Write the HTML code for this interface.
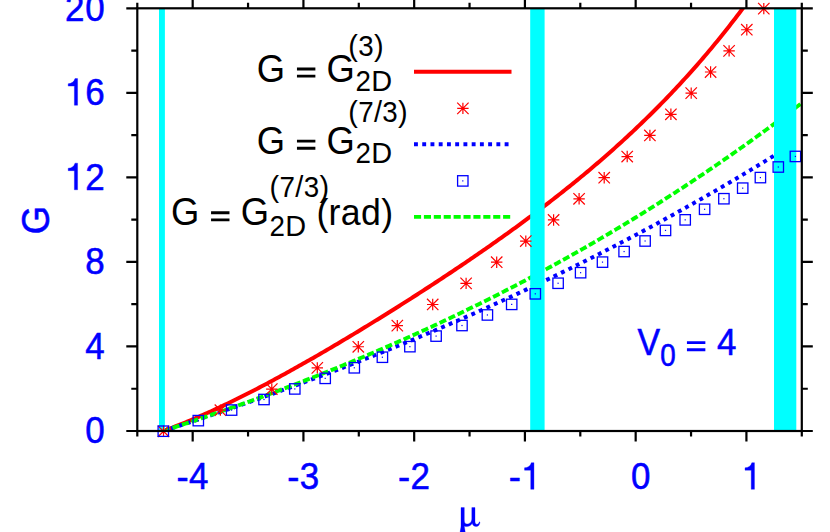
<!DOCTYPE html><html><head><meta charset="utf-8"><title>G vs mu</title><style>html,body{margin:0;padding:0;background:#fff}svg{display:block}text{font-family:"Liberation Sans",sans-serif}</style></head><body>
<svg width="830" height="532" viewBox="0 0 830 532">
<rect width="830" height="532" fill="#fff"/>
<defs><clipPath id="c"><rect x="137.3" y="8.3" width="664.5" height="422.7"/></clipPath>
<g id="st" stroke="#f00" stroke-width="1.2" fill="none"><path d="M-5.7 0H5.7M0 -5.7V5.7M-5.7 -5.7L5.7 5.7M-5.7 5.7L5.7 -5.7"/></g>
<g id="sq"><rect x="-5.2" y="-5.2" width="10.4" height="10.4" fill="none" stroke="#00f" stroke-width="1.3"/><rect x="-0.6" y="-0.6" width="1.2" height="1.2" fill="#00f"/></g>
</defs>
<g clip-path="url(#c)" fill="none">
<path d="M163.20 431.00 L165.20 430.27 L167.20 429.53 L169.20 428.78 L171.20 428.02 L173.20 427.25 L175.20 426.48 L177.20 425.70 L179.20 424.90 L181.20 424.10 L183.20 423.30 L185.20 422.48 L187.20 421.66 L189.20 420.82 L191.20 419.99 L193.20 419.14 L195.20 418.29 L197.20 417.42 L199.20 416.56 L201.20 415.68 L203.20 414.80 L205.20 413.91 L207.20 413.01 L209.20 412.11 L211.20 411.20 L213.20 410.28 L215.20 409.36 L217.20 408.43 L219.20 407.50 L221.20 406.56 L223.20 405.61 L225.20 404.66 L227.20 403.70 L229.20 402.73 L231.20 401.76 L233.20 400.78 L235.20 399.80 L237.20 398.82 L239.20 397.82 L241.20 396.82 L243.20 395.82 L245.20 394.81 L247.20 393.80 L249.20 392.78 L251.20 391.76 L253.20 390.73 L255.20 389.69 L257.20 388.66 L259.20 387.61 L261.20 386.57 L263.20 385.51 L265.20 384.46 L267.20 383.40 L269.20 382.33 L271.20 381.26 L273.20 380.19 L275.20 379.11 L277.20 378.03 L279.20 376.94 L281.20 375.85 L283.20 374.76 L285.20 373.66 L287.20 372.56 L289.20 371.45 L291.20 370.34 L293.20 369.23 L295.20 368.11 L297.20 366.99 L299.20 365.87 L301.20 364.74 L303.20 363.61 L305.20 362.48 L307.20 361.34 L309.20 360.20 L311.20 359.06 L313.20 357.91 L315.20 356.76 L317.20 355.61 L319.20 354.45 L321.20 353.29 L323.20 352.13 L325.20 350.96 L327.20 349.79 L329.20 348.62 L331.20 347.45 L333.20 346.27 L335.20 345.09 L337.20 343.91 L339.20 342.72 L341.20 341.53 L343.20 340.34 L345.20 339.15 L347.20 337.95 L349.20 336.75 L351.20 335.55 L353.20 334.34 L355.20 333.14 L357.20 331.93 L359.20 330.71 L361.20 329.50 L363.20 328.28 L365.20 327.06 L367.20 325.84 L369.20 324.61 L371.20 323.39 L373.20 322.16 L375.20 320.92 L377.20 319.69 L379.20 318.45 L381.20 317.21 L383.20 315.97 L385.20 314.72 L387.20 313.48 L389.20 312.23 L391.20 310.97 L393.20 309.72 L395.20 308.46 L397.20 307.20 L399.20 305.94 L401.20 304.67 L403.20 303.41 L405.20 302.14 L407.20 300.86 L409.20 299.59 L411.20 298.31 L413.20 297.03 L415.20 295.75 L417.20 294.46 L419.20 293.18 L421.20 291.89 L423.20 290.59 L425.20 289.30 L427.20 288.00 L429.20 286.70 L431.20 285.40 L433.20 284.09 L435.20 282.78 L437.20 281.47 L439.20 280.15 L441.20 278.84 L443.20 277.52 L445.20 276.19 L447.20 274.87 L449.20 273.54 L451.20 272.21 L453.20 270.87 L455.20 269.53 L457.20 268.19 L459.20 266.85 L461.20 265.50 L463.20 264.15 L465.20 262.79 L467.20 261.44 L469.20 260.08 L471.20 258.71 L473.20 257.35 L475.20 255.97 L477.20 254.60 L479.20 253.22 L481.20 251.84 L483.20 250.46 L485.20 249.07 L487.20 247.67 L489.20 246.28 L491.20 244.88 L493.20 243.47 L495.20 242.07 L497.20 240.65 L499.20 239.24 L501.20 237.82 L503.20 236.39 L505.20 234.97 L507.20 233.53 L509.20 232.09 L511.20 230.65 L513.20 229.21 L515.20 227.76 L517.20 226.30 L519.20 224.84 L521.20 223.38 L523.20 221.91 L525.20 220.43 L527.20 218.95 L529.20 217.47 L531.20 215.98 L533.20 214.48 L535.20 212.98 L537.20 211.47 L539.20 209.96 L541.20 208.45 L543.20 206.92 L545.20 205.40 L547.20 203.86 L549.20 202.32 L551.20 200.78 L553.20 199.23 L555.20 197.67 L557.20 196.10 L559.20 194.53 L561.20 192.96 L563.20 191.37 L565.20 189.78 L567.20 188.19 L569.20 186.58 L571.20 184.97 L573.20 183.36 L575.20 181.73 L577.20 180.10 L579.20 178.46 L581.20 176.82 L583.20 175.17 L585.20 173.50 L587.20 171.84 L589.20 170.16 L591.20 168.48 L593.20 166.78 L595.20 165.08 L597.20 163.38 L599.20 161.66 L601.20 159.94 L603.20 158.20 L605.20 156.46 L607.20 154.71 L609.20 152.95 L611.20 151.18 L613.20 149.40 L615.20 147.62 L617.20 145.82 L619.20 144.01 L621.20 142.20 L623.20 140.37 L625.20 138.54 L627.20 136.69 L629.20 134.84 L631.20 132.97 L633.20 131.10 L635.20 129.21 L637.20 127.32 L639.20 125.41 L641.20 123.49 L643.20 121.56 L645.20 119.62 L647.20 117.67 L649.20 115.71 L651.20 113.73 L653.20 111.75 L655.20 109.75 L657.20 107.74 L659.20 105.72 L661.20 103.69 L663.20 101.64 L665.20 99.58 L667.20 97.51 L669.20 95.42 L671.20 93.33 L673.20 91.22 L675.20 89.09 L677.20 86.96 L679.20 84.80 L681.20 82.64 L683.20 80.46 L685.20 78.27 L687.20 76.06 L689.20 73.84 L691.20 71.61 L693.20 69.36 L695.20 67.09 L697.20 64.81 L699.20 62.52 L701.20 60.21 L703.20 57.88 L705.20 55.54 L707.20 53.18 L709.20 50.81 L711.20 48.42 L713.20 46.01 L715.20 43.59 L717.20 41.15 L719.20 38.70 L721.20 36.22 L723.20 33.73 L725.20 31.23 L727.20 28.70 L729.20 26.16 L731.20 23.60 L733.20 21.02 L735.20 18.42 L737.20 15.81 L739.20 13.17 L741.20 10.52 L743.20 7.85 L745.20 5.16 L747.20 2.45 L749.20 -0.28 L751.20 -3.03 L753.20 -5.80 L755.20 -8.59 L757.20 -11.40 L759.20 -14.23" stroke="#f00" stroke-width="4"/>
<path d="M163.20 431.00 L165.20 430.35 L167.20 429.70 L169.20 429.06 L171.20 428.40 L173.20 427.75 L175.20 427.10 L177.20 426.45 L179.20 425.79 L181.20 425.13 L183.20 424.48 L185.20 423.82 L187.20 423.16 L189.20 422.50 L191.20 421.83 L193.20 421.17 L195.20 420.51 L197.20 419.84 L199.20 419.17 L201.20 418.50 L203.20 417.83 L205.20 417.16 L207.20 416.49 L209.20 415.82 L211.20 415.14 L213.20 414.47 L215.20 413.79 L217.20 413.11 L219.20 412.43 L221.20 411.75 L223.20 411.07 L225.20 410.38 L227.20 409.70 L229.20 409.01 L231.20 408.32 L233.20 407.63 L235.20 406.94 L237.20 406.25 L239.20 405.56 L241.20 404.86 L243.20 404.17 L245.20 403.47 L247.20 402.77 L249.20 402.07 L251.20 401.37 L253.20 400.67 L255.20 399.96 L257.20 399.26 L259.20 398.55 L261.20 397.84 L263.20 397.13 L265.20 396.42 L267.20 395.71 L269.20 394.99 L271.20 394.28 L273.20 393.56 L275.20 392.84 L277.20 392.12 L279.20 391.40 L281.20 390.68 L283.20 389.96 L285.20 389.23 L287.20 388.50 L289.20 387.78 L291.20 387.05 L293.20 386.31 L295.20 385.58 L297.20 384.85 L299.20 384.11 L301.20 383.37 L303.20 382.64 L305.20 381.90 L307.20 381.15 L309.20 380.41 L311.20 379.67 L313.20 378.92 L315.20 378.17 L317.20 377.42 L319.20 376.67 L321.20 375.92 L323.20 375.16 L325.20 374.41 L327.20 373.65 L329.20 372.89 L331.20 372.13 L333.20 371.37 L335.20 370.61 L337.20 369.84 L339.20 369.07 L341.20 368.31 L343.20 367.54 L345.20 366.76 L347.20 365.99 L349.20 365.22 L351.20 364.44 L353.20 363.66 L355.20 362.88 L357.20 362.10 L359.20 361.32 L361.20 360.53 L363.20 359.75 L365.20 358.96 L367.20 358.17 L369.20 357.38 L371.20 356.59 L373.20 355.79 L375.20 355.00 L377.20 354.20 L379.20 353.40 L381.20 352.60 L383.20 351.79 L385.20 350.99 L387.20 350.18 L389.20 349.37 L391.20 348.56 L393.20 347.75 L395.20 346.94 L397.20 346.12 L399.20 345.31 L401.20 344.49 L403.20 343.67 L405.20 342.85 L407.20 342.02 L409.20 341.20 L411.20 340.37 L413.20 339.54 L415.20 338.71 L417.20 337.87 L419.20 337.04 L421.20 336.20 L423.20 335.37 L425.20 334.53 L427.20 333.68 L429.20 332.84 L431.20 331.99 L433.20 331.15 L435.20 330.30 L437.20 329.45 L439.20 328.59 L441.20 327.74 L443.20 326.88 L445.20 326.02 L447.20 325.16 L449.20 324.30 L451.20 323.44 L453.20 322.57 L455.20 321.70 L457.20 320.83 L459.20 319.96 L461.20 319.09 L463.20 318.21 L465.20 317.33 L467.20 316.45 L469.20 315.57 L471.20 314.69 L473.20 313.81 L475.20 312.92 L477.20 312.03 L479.20 311.14 L481.20 310.25 L483.20 309.35 L485.20 308.45 L487.20 307.55 L489.20 306.65 L491.20 305.75 L493.20 304.85 L495.20 303.94 L497.20 303.03 L499.20 302.12 L501.20 301.21 L503.20 300.29 L505.20 299.38 L507.20 298.46 L509.20 297.54 L511.20 296.61 L513.20 295.69 L515.20 294.76 L517.20 293.83 L519.20 292.90 L521.20 291.97 L523.20 291.03 L525.20 290.09 L527.20 289.16 L529.20 288.21 L531.20 287.27 L533.20 286.32 L535.20 285.38 L537.20 284.43 L539.20 283.48 L541.20 282.52 L543.20 281.57 L545.20 280.61 L547.20 279.65 L549.20 278.68 L551.20 277.72 L553.20 276.75 L555.20 275.78 L557.20 274.81 L559.20 273.84 L561.20 272.86 L563.20 271.89 L565.20 270.91 L567.20 269.92 L569.20 268.94 L571.20 267.95 L573.20 266.97 L575.20 265.98 L577.20 264.98 L579.20 263.99 L581.20 262.99 L583.20 261.99 L585.20 260.99 L587.20 259.98 L589.20 258.98 L591.20 257.97 L593.20 256.96 L595.20 255.95 L597.20 254.93 L599.20 253.91 L601.20 252.89 L603.20 251.87 L605.20 250.85 L607.20 249.82 L609.20 248.79 L611.20 247.76 L613.20 246.73 L615.20 245.69 L617.20 244.66 L619.20 243.61 L621.20 242.57 L623.20 241.53 L625.20 240.48 L627.20 239.43 L629.20 238.38 L631.20 237.32 L633.20 236.27 L635.20 235.21 L637.20 234.15 L639.20 233.08 L641.20 232.02 L643.20 230.95 L645.20 229.88 L647.20 228.81 L649.20 227.73 L651.20 226.65 L653.20 225.57 L655.20 224.49 L657.20 223.40 L659.20 222.32 L661.20 221.23 L663.20 220.13 L665.20 219.04 L667.20 217.94 L669.20 216.84 L671.20 215.74 L673.20 214.64 L675.20 213.53 L677.20 212.42 L679.20 211.31 L681.20 210.19 L683.20 209.08 L685.20 207.96 L687.20 206.84 L689.20 205.71 L691.20 204.59 L693.20 203.46 L695.20 202.32 L697.20 201.19 L699.20 200.05 L701.20 198.91 L703.20 197.77 L705.20 196.63 L707.20 195.48 L709.20 194.33 L711.20 193.18 L713.20 192.03 L715.20 190.87 L717.20 189.71 L719.20 188.55 L721.20 187.38 L723.20 186.21 L725.20 185.04 L727.20 183.87 L729.20 182.70 L731.20 181.52 L733.20 180.34 L735.20 179.16 L737.20 177.97 L739.20 176.78 L741.20 175.59 L743.20 174.40 L745.20 173.20 L747.20 172.00 L749.20 170.80 L751.20 169.60 L753.20 168.39 L755.20 167.18 L757.20 165.97 L759.20 164.76 L761.20 163.54 L763.20 162.32 L765.20 161.10 L767.20 159.87 L769.20 158.64 L771.20 157.41 L773.20 156.18 L775.20 154.94" stroke="#00f" stroke-width="4" stroke-dasharray="3.9 4.34"/>
<path d="M163.20 431.00 L165.20 430.35 L167.20 429.69 L169.20 429.04 L171.20 428.38 L173.20 427.72 L175.20 427.06 L177.20 426.40 L179.20 425.74 L181.20 425.07 L183.20 424.40 L185.20 423.74 L187.20 423.07 L189.20 422.39 L191.20 421.72 L193.20 421.05 L195.20 420.37 L197.20 419.69 L199.20 419.01 L201.20 418.33 L203.20 417.65 L205.20 416.96 L207.20 416.28 L209.20 415.59 L211.20 414.90 L213.20 414.21 L215.20 413.52 L217.20 412.82 L219.20 412.12 L221.20 411.43 L223.20 410.73 L225.20 410.02 L227.20 409.32 L229.20 408.62 L231.20 407.91 L233.20 407.20 L235.20 406.49 L237.20 405.78 L239.20 405.06 L241.20 404.35 L243.20 403.63 L245.20 402.91 L247.20 402.19 L249.20 401.46 L251.20 400.74 L253.20 400.01 L255.20 399.28 L257.20 398.55 L259.20 397.82 L261.20 397.08 L263.20 396.35 L265.20 395.61 L267.20 394.87 L269.20 394.13 L271.20 393.38 L273.20 392.64 L275.20 391.89 L277.20 391.14 L279.20 390.39 L281.20 389.63 L283.20 388.88 L285.20 388.12 L287.20 387.36 L289.20 386.60 L291.20 385.83 L293.20 385.07 L295.20 384.30 L297.20 383.53 L299.20 382.76 L301.20 381.98 L303.20 381.21 L305.20 380.43 L307.20 379.65 L309.20 378.87 L311.20 378.08 L313.20 377.30 L315.20 376.51 L317.20 375.72 L319.20 374.92 L321.20 374.13 L323.20 373.33 L325.20 372.53 L327.20 371.73 L329.20 370.93 L331.20 370.12 L333.20 369.32 L335.20 368.51 L337.20 367.69 L339.20 366.88 L341.20 366.06 L343.20 365.24 L345.20 364.42 L347.20 363.60 L349.20 362.77 L351.20 361.95 L353.20 361.12 L355.20 360.28 L357.20 359.45 L359.20 358.61 L361.20 357.77 L363.20 356.93 L365.20 356.09 L367.20 355.24 L369.20 354.39 L371.20 353.54 L373.20 352.69 L375.20 351.83 L377.20 350.98 L379.20 350.12 L381.20 349.25 L383.20 348.39 L385.20 347.52 L387.20 346.65 L389.20 345.78 L391.20 344.91 L393.20 344.03 L395.20 343.15 L397.20 342.27 L399.20 341.38 L401.20 340.50 L403.20 339.61 L405.20 338.72 L407.20 337.82 L409.20 336.93 L411.20 336.03 L413.20 335.13 L415.20 334.22 L417.20 333.32 L419.20 332.41 L421.20 331.50 L423.20 330.58 L425.20 329.67 L427.20 328.75 L429.20 327.83 L431.20 326.90 L433.20 325.98 L435.20 325.05 L437.20 324.12 L439.20 323.18 L441.20 322.24 L443.20 321.31 L445.20 320.36 L447.20 319.42 L449.20 318.47 L451.20 317.52 L453.20 316.57 L455.20 315.61 L457.20 314.65 L459.20 313.69 L461.20 312.73 L463.20 311.76 L465.20 310.80 L467.20 309.82 L469.20 308.85 L471.20 307.87 L473.20 306.89 L475.20 305.91 L477.20 304.93 L479.20 303.94 L481.20 302.95 L483.20 301.95 L485.20 300.96 L487.20 299.96 L489.20 298.96 L491.20 297.95 L493.20 296.95 L495.20 295.94 L497.20 294.92 L499.20 293.91 L501.20 292.89 L503.20 291.87 L505.20 290.84 L507.20 289.82 L509.20 288.79 L511.20 287.75 L513.20 286.72 L515.20 285.68 L517.20 284.64 L519.20 283.59 L521.20 282.55 L523.20 281.50 L525.20 280.44 L527.20 279.39 L529.20 278.33 L531.20 277.27 L533.20 276.20 L535.20 275.13 L537.20 274.06 L539.20 272.99 L541.20 271.91 L543.20 270.83 L545.20 269.75 L547.20 268.66 L549.20 267.57 L551.20 266.48 L553.20 265.39 L555.20 264.29 L557.20 263.19 L559.20 262.08 L561.20 260.98 L563.20 259.86 L565.20 258.75 L567.20 257.64 L569.20 256.52 L571.20 255.39 L573.20 254.27 L575.20 253.14 L577.20 252.01 L579.20 250.87 L581.20 249.73 L583.20 248.59 L585.20 247.45 L587.20 246.30 L589.20 245.15 L591.20 243.99 L593.20 242.84 L595.20 241.67 L597.20 240.51 L599.20 239.34 L601.20 238.17 L603.20 237.00 L605.20 235.82 L607.20 234.64 L609.20 233.46 L611.20 232.27 L613.20 231.08 L615.20 229.89 L617.20 228.69 L619.20 227.49 L621.20 226.29 L623.20 225.08 L625.20 223.87 L627.20 222.66 L629.20 221.44 L631.20 220.23 L633.20 219.00 L635.20 217.78 L637.20 216.55 L639.20 215.31 L641.20 214.08 L643.20 212.84 L645.20 211.59 L647.20 210.35 L649.20 209.10 L651.20 207.84 L653.20 206.59 L655.20 205.32 L657.20 204.06 L659.20 202.79 L661.20 201.52 L663.20 200.25 L665.20 198.97 L667.20 197.69 L669.20 196.40 L671.20 195.12 L673.20 193.82 L675.20 192.53 L677.20 191.23 L679.20 189.93 L681.20 188.62 L683.20 187.31 L685.20 186.00 L687.20 184.68 L689.20 183.36 L691.20 182.04 L693.20 180.71 L695.20 179.38 L697.20 178.05 L699.20 176.71 L701.20 175.37 L703.20 174.02 L705.20 172.67 L707.20 171.32 L709.20 169.96 L711.20 168.60 L713.20 167.24 L715.20 165.87 L717.20 164.50 L719.20 163.13 L721.20 161.75 L723.20 160.36 L725.20 158.98 L727.20 157.59 L729.20 156.20 L731.20 154.80 L733.20 153.40 L735.20 151.99 L737.20 150.59 L739.20 149.17 L741.20 147.76 L743.20 146.34 L745.20 144.91 L747.20 143.49 L749.20 142.06 L751.20 140.62 L753.20 139.18 L755.20 137.74 L757.20 136.29 L759.20 134.84 L761.20 133.39 L763.20 131.93 L765.20 130.47 L767.20 129.00 L769.20 127.53 L771.20 126.06 L773.20 124.58 L775.20 123.10 L777.20 121.62 L779.20 120.13 L781.20 118.63 L783.20 117.14 L785.20 115.64 L787.20 114.13 L789.20 112.62 L791.20 111.11 L793.20 109.59 L795.20 108.07 L797.20 106.55 L799.20 105.02 L801.20 103.48 L803.20 101.95" stroke="#0f0" stroke-width="3.9" stroke-dasharray="7.1 2.8"/>
</g>
<rect x="159.0" y="8.3" width="5.9" height="422.7" fill="#0ff"/>
<rect x="530.2" y="8.3" width="14.4" height="422.7" fill="#0ff"/>
<rect x="774.0" y="8.3" width="22.3" height="422.7" fill="#0ff"/>
<use href="#st" x="163.5" y="431.30"/>
<use href="#st" x="220.4" y="410.17"/>
<use href="#st" x="271.8" y="389.03"/>
<use href="#st" x="317.3" y="367.90"/>
<use href="#st" x="358.3" y="346.76"/>
<use href="#st" x="397.3" y="325.62"/>
<use href="#st" x="432.7" y="304.49"/>
<use href="#st" x="466.1" y="283.36"/>
<use href="#st" x="496.7" y="262.22"/>
<use href="#st" x="525.8" y="241.09"/>
<use href="#st" x="553.6" y="219.95"/>
<use href="#st" x="579.1" y="198.82"/>
<use href="#st" x="604.2" y="177.68"/>
<use href="#st" x="627.2" y="156.55"/>
<use href="#st" x="649.9" y="135.41"/>
<use href="#st" x="670.9" y="114.28"/>
<use href="#st" x="691.2" y="93.14"/>
<use href="#st" x="710.6" y="72.01"/>
<use href="#st" x="729.1" y="50.87"/>
<use href="#st" x="746.8" y="29.74"/>
<use href="#st" x="763.8" y="8.60"/>
<use href="#sq" x="163.3" y="431.20"/>
<use href="#sq" x="198.3" y="420.63"/>
<use href="#sq" x="231.6" y="410.06"/>
<use href="#sq" x="264.0" y="399.50"/>
<use href="#sq" x="294.8" y="388.93"/>
<use href="#sq" x="325.2" y="378.36"/>
<use href="#sq" x="354.3" y="367.80"/>
<use href="#sq" x="382.4" y="357.23"/>
<use href="#sq" x="409.9" y="346.66"/>
<use href="#sq" x="436.1" y="336.09"/>
<use href="#sq" x="462.0" y="325.52"/>
<use href="#sq" x="487.4" y="314.96"/>
<use href="#sq" x="511.7" y="304.39"/>
<use href="#sq" x="535.3" y="293.82"/>
<use href="#sq" x="558.1" y="283.25"/>
<use href="#sq" x="580.6" y="272.69"/>
<use href="#sq" x="602.5" y="262.12"/>
<use href="#sq" x="624.1" y="251.55"/>
<use href="#sq" x="645.1" y="240.99"/>
<use href="#sq" x="665.5" y="230.42"/>
<use href="#sq" x="685.2" y="219.85"/>
<use href="#sq" x="704.6" y="209.28"/>
<use href="#sq" x="723.9" y="198.72"/>
<use href="#sq" x="742.7" y="188.15"/>
<use href="#sq" x="760.4" y="177.58"/>
<use href="#sq" x="778.3" y="167.01"/>
<use href="#sq" x="795.4" y="156.44"/>
<g stroke="#000" stroke-width="2.2" fill="none">
<rect x="137.30" y="8.30" width="664.50" height="422.70"/>
<path d="M137.30 431.00v5.5 M137.30 8.30v-5.5"/>
<path d="M192.68 431.00v10.5 M192.68 8.30v-10.5"/>
<path d="M248.05 431.00v5.5 M248.05 8.30v-5.5"/>
<path d="M303.43 431.00v10.5 M303.43 8.30v-10.5"/>
<path d="M358.80 431.00v5.5 M358.80 8.30v-5.5"/>
<path d="M414.18 431.00v10.5 M414.18 8.30v-10.5"/>
<path d="M469.55 431.00v5.5 M469.55 8.30v-5.5"/>
<path d="M524.92 431.00v10.5 M524.92 8.30v-10.5"/>
<path d="M580.30 431.00v5.5 M580.30 8.30v-5.5"/>
<path d="M635.67 431.00v10.5 M635.67 8.30v-10.5"/>
<path d="M691.05 431.00v5.5 M691.05 8.30v-5.5"/>
<path d="M746.42 431.00v10.5 M746.42 8.30v-10.5"/>
<path d="M801.80 431.00v5.5 M801.80 8.30v-5.5"/>
<path d="M137.30 431.00h-11 M801.80 431.00h11"/>
<path d="M137.30 388.73h-6 M801.80 388.73h6"/>
<path d="M137.30 346.46h-11 M801.80 346.46h11"/>
<path d="M137.30 304.19h-6 M801.80 304.19h6"/>
<path d="M137.30 261.92h-11 M801.80 261.92h11"/>
<path d="M137.30 219.65h-6 M801.80 219.65h6"/>
<path d="M137.30 177.38h-11 M801.80 177.38h11"/>
<path d="M137.30 135.11h-6 M801.80 135.11h6"/>
<path d="M137.30 92.84h-11 M801.80 92.84h11"/>
<path d="M137.30 50.57h-6 M801.80 50.57h6"/>
<path d="M137.30 8.30h-11 M801.80 8.30h11"/>
</g>
<path d="M414 71.8H511.5" stroke="#f00" stroke-width="4"/>
<use href="#st" x="462.9" y="108.4"/>
<path d="M414 144.3H511.5" stroke="#00f" stroke-width="4" stroke-dasharray="3.9 4.34"/>
<use href="#sq" x="462.8" y="180.9"/>
<path d="M414 216.9H511.5" stroke="#0f0" stroke-width="3.9" stroke-dasharray="7.1 2.8"/>
<text transform="translate(176.50 489.30) scale(1.000 1.040)" font-size="36.40" fill="#00f" stroke="#00f" stroke-width="0.55">-</text><text transform="translate(189.02 489.30) scale(0.960 1.040)" font-size="36.40" fill="#00f" stroke="#00f" stroke-width="0.55">4</text>
<text transform="translate(287.25 489.30) scale(1.000 1.040)" font-size="36.40" fill="#00f" stroke="#00f" stroke-width="0.55">-</text><text transform="translate(299.77 489.30) scale(0.960 1.040)" font-size="36.40" fill="#00f" stroke="#00f" stroke-width="0.55">3</text>
<text transform="translate(398.00 489.30) scale(1.000 1.040)" font-size="36.40" fill="#00f" stroke="#00f" stroke-width="0.55">-</text><text transform="translate(410.52 489.30) scale(0.960 1.040)" font-size="36.40" fill="#00f" stroke="#00f" stroke-width="0.55">2</text>
<text transform="translate(508.75 489.30) scale(1.000 1.040)" font-size="36.40" fill="#00f" stroke="#00f" stroke-width="0.55">-</text><path transform="translate(520.87 489.30) scale(0.03640 0.03786)" d="M359 0H271V-505H101V-568C190 -572 262 -610 288 -703H359Z" fill="#00f" stroke="#00f" stroke-width="9.1"/>
<text transform="translate(631.02 489.30) scale(0.960 1.040)" font-size="36.40" fill="#00f" stroke="#00f" stroke-width="0.55">0</text>
<path transform="translate(741.37 489.30) scale(0.03640 0.03786)" d="M359 0H271V-505H101V-568C190 -572 262 -610 288 -703H359Z" fill="#00f" stroke="#00f" stroke-width="9.1"/>
<text transform="translate(85.17 443.40) scale(0.960 1.040)" font-size="36.40" fill="#00f" stroke="#00f" stroke-width="0.55">0</text>
<text transform="translate(85.17 358.86) scale(0.960 1.040)" font-size="36.40" fill="#00f" stroke="#00f" stroke-width="0.55">4</text>
<text transform="translate(85.17 274.32) scale(0.960 1.040)" font-size="36.40" fill="#00f" stroke="#00f" stroke-width="0.55">8</text>
<path transform="translate(64.52 189.78) scale(0.03640 0.03786)" d="M359 0H271V-505H101V-568C190 -572 262 -610 288 -703H359Z" fill="#00f" stroke="#00f" stroke-width="9.1"/><text transform="translate(85.17 189.78) scale(0.960 1.040)" font-size="36.40" fill="#00f" stroke="#00f" stroke-width="0.55">2</text>
<path transform="translate(64.52 105.24) scale(0.03640 0.03786)" d="M359 0H271V-505H101V-568C190 -572 262 -610 288 -703H359Z" fill="#00f" stroke="#00f" stroke-width="9.1"/><text transform="translate(85.17 105.24) scale(0.960 1.040)" font-size="36.40" fill="#00f" stroke="#00f" stroke-width="0.55">6</text>
<text transform="translate(64.93 20.70) scale(0.960 1.040)" font-size="36.40" fill="#00f" stroke="#00f" stroke-width="0.55">2</text><text transform="translate(85.17 20.70) scale(0.960 1.040)" font-size="36.40" fill="#00f" stroke="#00f" stroke-width="0.55">0</text>
<text transform="translate(49.4,220) rotate(-90) scale(1 1.060)" text-anchor="middle" font-size="36.4" fill="#00f" stroke="#00f" stroke-width="0.55">G</text>
<path fill="#00f" stroke="#00f" stroke-width="0.3" d="M461 507.6H464.3V520C464.3 523 465.5 524 467 524C469.5 524 471.8 522 471.8 519V507.6H475V521.5C475 523.5 476 524.3 477 524.3C478.2 524.3 479 523.3 479.3 521.8L480 522.2C479.6 525 478.2 526.6 476.2 526.6C474.2 526.6 472.8 525.5 472.2 523.3C471 525.5 469 526.6 466.8 526.6C465.8 526.6 465 526.4 464.4 526C464.3 528.5 465.3 530.5 465.3 533H460C460 530.5 461 528.5 461 526Z"/>
<text transform="translate(637.55 355.20) scale(0.930 1.000)" font-size="36.40" fill="#00f" stroke="#00f" stroke-width="0.55">V</text>
<text transform="translate(660.22 366.40) scale(0.960 1.100)" font-size="28.90" fill="#00f" stroke="#00f" stroke-width="0.55">0</text>
<path transform="translate(685.52 355.40) scale(0.03640 0.03640)" d="M39 -115H545V-194H39ZM39 -311H545V-390H39Z" fill="#00f"/><text transform="translate(717.00 355.20) scale(0.960 1.040)" font-size="36.40" fill="#00f" stroke="#00f" stroke-width="0.55">4</text>
<text transform="translate(256.80 81.50) scale(1.000 1.065)" font-size="36.40" fill="#000" stroke="#000" stroke-width="0.00">G</text><path transform="translate(295.54 81.70) scale(0.03640 0.03640)" d="M39 -115H545V-194H39ZM39 -311H545V-390H39Z" fill="#000"/><text transform="translate(326.62 81.50) scale(1.000 1.065)" font-size="36.40" fill="#000" stroke="#000" stroke-width="0.00">G</text>
<text transform="translate(355.52 90.90) scale(0.960 1.040)" font-size="28.90" fill="#000" stroke="#000" stroke-width="0.00">2</text><text transform="translate(371.27 90.90) scale(1.000 1.040)" font-size="28.90" fill="#000" stroke="#000" stroke-width="0.00">D</text>
<text transform="translate(256.80 153.70) scale(1.000 1.065)" font-size="36.40" fill="#000" stroke="#000" stroke-width="0.00">G</text><path transform="translate(295.54 153.90) scale(0.03640 0.03640)" d="M39 -115H545V-194H39ZM39 -311H545V-390H39Z" fill="#000"/><text transform="translate(326.62 153.70) scale(1.000 1.065)" font-size="36.40" fill="#000" stroke="#000" stroke-width="0.00">G</text>
<text transform="translate(355.52 163.10) scale(0.960 1.040)" font-size="28.90" fill="#000" stroke="#000" stroke-width="0.00">2</text><text transform="translate(371.27 163.10) scale(1.000 1.040)" font-size="28.90" fill="#000" stroke="#000" stroke-width="0.00">D</text>
<text transform="translate(348.20 55.90) scale(1.000 1.040)" font-size="28.90" fill="#000" stroke="#000" stroke-width="0.00">(</text><text transform="translate(358.15 55.90) scale(0.960 1.040)" font-size="28.90" fill="#000" stroke="#000" stroke-width="0.00">3</text><text transform="translate(373.89 55.90) scale(1.000 1.040)" font-size="28.90" fill="#000" stroke="#000" stroke-width="0.00">)</text>
<text transform="translate(348.20 122.30) scale(1.000 1.040)" font-size="28.90" fill="#000" stroke="#000" stroke-width="0.00">(</text><text transform="translate(358.15 122.30) scale(0.960 1.040)" font-size="28.90" fill="#000" stroke="#000" stroke-width="0.00">7</text><text transform="translate(373.89 122.30) scale(1.000 1.040)" font-size="28.90" fill="#000" stroke="#000" stroke-width="0.00">/</text><text transform="translate(382.25 122.30) scale(0.960 1.040)" font-size="28.90" fill="#000" stroke="#000" stroke-width="0.00">3</text><text transform="translate(397.99 122.30) scale(1.000 1.040)" font-size="28.90" fill="#000" stroke="#000" stroke-width="0.00">)</text>
<text transform="translate(170.90 225.30) scale(1.000 1.065)" font-size="36.40" fill="#000" stroke="#000" stroke-width="0.00">G</text><path transform="translate(209.64 225.50) scale(0.03640 0.03640)" d="M39 -115H545V-194H39ZM39 -311H545V-390H39Z" fill="#000"/><text transform="translate(240.72 225.30) scale(1.000 1.065)" font-size="36.40" fill="#000" stroke="#000" stroke-width="0.00">G</text>
<text transform="translate(269.52 235.90) scale(0.960 1.040)" font-size="28.90" fill="#000" stroke="#000" stroke-width="0.00">2</text><text transform="translate(285.27 235.90) scale(1.000 1.040)" font-size="28.90" fill="#000" stroke="#000" stroke-width="0.00">D</text>
<text transform="translate(269.60 196.50) scale(1.000 1.040)" font-size="28.90" fill="#000" stroke="#000" stroke-width="0.00">(</text><text transform="translate(279.55 196.50) scale(0.960 1.040)" font-size="28.90" fill="#000" stroke="#000" stroke-width="0.00">7</text><text transform="translate(295.29 196.50) scale(1.000 1.040)" font-size="28.90" fill="#000" stroke="#000" stroke-width="0.00">/</text><text transform="translate(303.65 196.50) scale(0.960 1.040)" font-size="28.90" fill="#000" stroke="#000" stroke-width="0.00">3</text><text transform="translate(319.39 196.50) scale(1.000 1.040)" font-size="28.90" fill="#000" stroke="#000" stroke-width="0.00">)</text>
<text transform="translate(316.44 225.30) scale(0.980 1.000)" font-size="36.40" fill="#000" stroke="#000" stroke-width="0.00">(</text><text transform="translate(328.56 225.30) scale(0.980 1.000)" font-size="36.40" fill="#000" stroke="#000" stroke-width="0.00">r</text><text transform="translate(340.76 225.30) scale(0.980 1.000)" font-size="36.40" fill="#000" stroke="#000" stroke-width="0.00">a</text><text transform="translate(361.00 225.30) scale(0.980 1.000)" font-size="36.40" fill="#000" stroke="#000" stroke-width="0.00">d</text><text transform="translate(381.16 225.30) scale(0.980 1.000)" font-size="36.40" fill="#000" stroke="#000" stroke-width="0.00">)</text>
</svg></body></html>
